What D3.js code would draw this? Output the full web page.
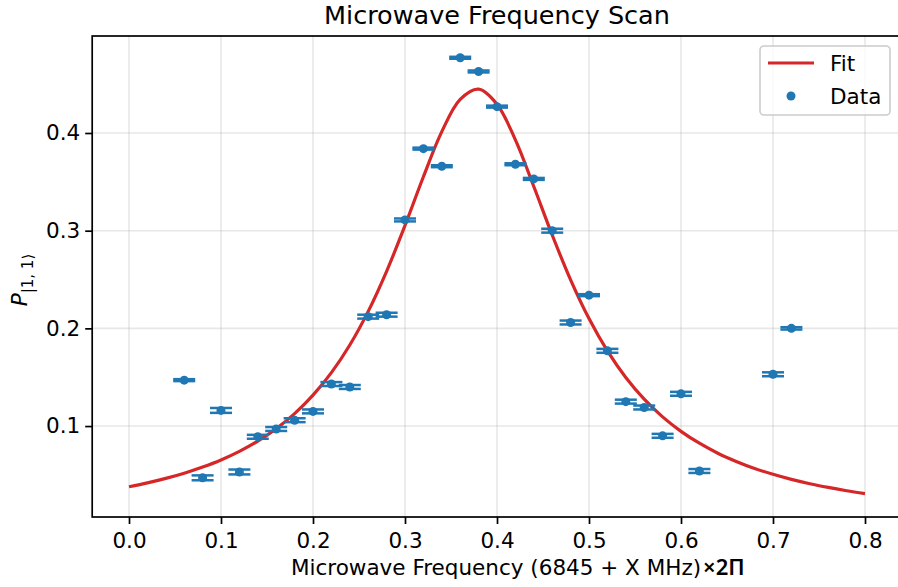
<!DOCTYPE html>
<html>
<head>
<meta charset="utf-8">
<script src="https://cdn.jsdelivr.net/npm/d3@7"></script>
<style>
  body { margin: 0; background: #fff; }
  svg { display: block; font-family: "DejaVu Sans", sans-serif; }
</style>
</head>
<body>
<svg class="chart"></svg>
<script>
// measured points (frequency offset, population, y error)
var freqs = [0.06, 0.08, 0.10, 0.12, 0.14, 0.16, 0.18, 0.20, 0.22, 0.24, 0.26, 0.28, 0.30, 0.32, 0.34,
             0.36, 0.38, 0.40, 0.42, 0.44, 0.46, 0.48, 0.50, 0.52, 0.54, 0.56, 0.58, 0.60, 0.62, 0.70, 0.72];
var pops = [0.147, 0.047, 0.116, 0.053, 0.089, 0.097, 0.106, 0.115, 0.143, 0.140, 0.212, 0.214, 0.311, 0.384, 0.366,
            0.477, 0.463, 0.427, 0.368, 0.353, 0.300, 0.206, 0.234, 0.177, 0.125, 0.119, 0.090, 0.133, 0.054, 0.153, 0.200];
var errs = [0.001, 0.0025, 0.0025, 0.0025, 0.002, 0.002, 0.002, 0.002, 0.002, 0.002, 0.002, 0.002, 0.0015, 0.001, 0.001,
            0.001, 0.001, 0.001, 0.001, 0.001, 0.002, 0.002, 0.001, 0.002, 0.002, 0.002, 0.002, 0.002, 0.002, 0.002, 0.0012];

// fit curve, every 0.02
var fitX = d3.range(0, 41).map(function(i) { return i / 50; });
var fitY = [0.0379, 0.0418, 0.0464, 0.0517, 0.0580, 0.0653, 0.0741, 0.0846, 0.0973, 0.1127, 0.1316,
            0.1547, 0.1830, 0.2174, 0.2584, 0.3053, 0.3552, 0.4014, 0.4344, 0.4449, 0.4294,
            0.3929, 0.3452, 0.2956, 0.2497, 0.2100, 0.1769, 0.1497, 0.1275, 0.1094, 0.0946,
            0.0824, 0.0722, 0.0638, 0.0566, 0.0506, 0.0454, 0.0410, 0.0372, 0.0338, 0.0309];

var xTicks = [0, 0.1, 0.2, 0.3, 0.4, 0.5, 0.6, 0.7, 0.8];
var yTicks = [0.1, 0.2, 0.3, 0.4];

var W = 898, H = 587;
var pLeft = 92.2, pRight = 901.8, pTop = 36, pBottom = 517;
var fs = "21.5px";

var svg = d3.select(".chart").attr("width", W).attr("height", H);

var x = d3.scaleLinear().domain([-0.04, 0.84]).range([pLeft, pRight]);
var y = d3.scaleLinear().domain([0.0069, 0.4993]).range([pBottom, pTop]);

var blue = "#1f77b4", red = "#d62728";

// grid
var grid = svg.append("g");
grid.selectAll(".gx").data(xTicks).enter().append("line")
    .attr("x1", function(d) { return x(d); }).attr("x2", function(d) { return x(d); })
    .attr("y1", pTop).attr("y2", pBottom)
    .attr("stroke", "#b0b0b0").attr("stroke-opacity", 0.3).attr("stroke-width", 1.6);
grid.selectAll(".gy").data(yTicks).enter().append("line")
    .attr("x1", pLeft).attr("x2", pRight)
    .attr("y1", function(d) { return y(d); }).attr("y2", function(d) { return y(d); })
    .attr("stroke", "#b0b0b0").attr("stroke-opacity", 0.3).attr("stroke-width", 1.6);

// fit line
var line = d3.line()
    .x(function(d, i) { return x(fitX[i]); })
    .y(function(d) { return y(d); })
    .curve(d3.curveCatmullRom);
svg.append("path").datum(fitY)
    .attr("d", line)
    .attr("fill", "none").attr("stroke", red).attr("stroke-width", 3.2);

// error bars + points
var pts = svg.append("g").selectAll("g").data(freqs).enter().append("g");
var cap = 11;
pts.append("line")
    .attr("x1", function(d) { return x(d); }).attr("x2", function(d) { return x(d); })
    .attr("y1", function(d, i) { return y(pops[i] - errs[i]); })
    .attr("y2", function(d, i) { return y(pops[i] + errs[i]); })
    .attr("stroke", blue).attr("stroke-width", 2.4);
[-1, 1].forEach(function(s) {
    pts.append("line")
        .attr("x1", function(d) { return x(d) - cap; }).attr("x2", function(d) { return x(d) + cap; })
        .attr("y1", function(d, i) { return y(pops[i] + s * errs[i]); })
        .attr("y2", function(d, i) { return y(pops[i] + s * errs[i]); })
        .attr("stroke", blue).attr("stroke-width", 2.5);
});
pts.append("circle")
    .attr("cx", function(d) { return x(d); })
    .attr("cy", function(d, i) { return y(pops[i]); })
    .attr("r", 4.5).attr("fill", blue);

// spines
svg.append("rect").attr("x", pLeft).attr("y", pTop)
    .attr("width", pRight - pLeft).attr("height", pBottom - pTop)
    .attr("fill", "none").attr("stroke", "#000").attr("stroke-width", 1.7);

// axes
var xAxis = svg.append("g").attr("transform", "translate(0," + pBottom + ")")
    .call(d3.axisBottom(x).tickValues(xTicks).tickFormat(d3.format(".1f")).tickSize(7).tickPadding(9));
var yAxis = svg.append("g").attr("transform", "translate(" + pLeft + ",0)")
    .call(d3.axisLeft(y).tickValues(yTicks).tickFormat(d3.format(".1f")).tickSize(7).tickPadding(5));
[xAxis, yAxis].forEach(function(a) {
    a.select(".domain").remove();
    a.selectAll(".tick line").attr("stroke", "#000").attr("stroke-width", 1.7);
    a.selectAll(".tick text").attr("fill", "#000")
        .style("font-family", "DejaVu Sans").style("font-size", fs);
});

// title
svg.append("text").attr("x", 497).attr("y", 24).attr("text-anchor", "middle")
    .style("font-size", "25.5px").text("Microwave Frequency Scan");

// x label
var xl = svg.append("text").attr("x", 291).attr("y", 575).style("font-size", fs);
xl.append("tspan").text("Microwave Frequency (6845 + X MHz)");
xl.append("tspan").attr("dx", 2).style("font-family", "Noto Sans").style("font-size", "22px")
    .style("font-weight", "600").text("×2Π");

// y label
var yl = svg.append("text").attr("transform", "translate(27,280) rotate(-90)")
    .attr("text-anchor", "middle").style("font-size", fs);
yl.append("tspan").style("font-style", "italic").text("P");
yl.append("tspan").attr("dy", 6).style("font-size", "15px").text("|1, 1⟩");

// legend
var lg = svg.append("g");
lg.append("rect").attr("x", 760).attr("y", 46).attr("width", 130).attr("height", 69).attr("rx", 4)
    .attr("fill", "#fff").attr("fill-opacity", 0.8).attr("stroke", "#ccc").attr("stroke-width", 1.6);
lg.append("line").attr("x1", 768).attr("x2", 814).attr("y1", 63).attr("y2", 63)
    .attr("stroke", red).attr("stroke-width", 3.2);
lg.append("circle").attr("cx", 791).attr("cy", 96).attr("r", 4.5).attr("fill", blue);
lg.append("text").attr("x", 830).attr("y", 71).style("font-size", fs).text("Fit");
lg.append("text").attr("x", 830).attr("y", 104).style("font-size", fs).text("Data");
</script>
</body>
</html>
